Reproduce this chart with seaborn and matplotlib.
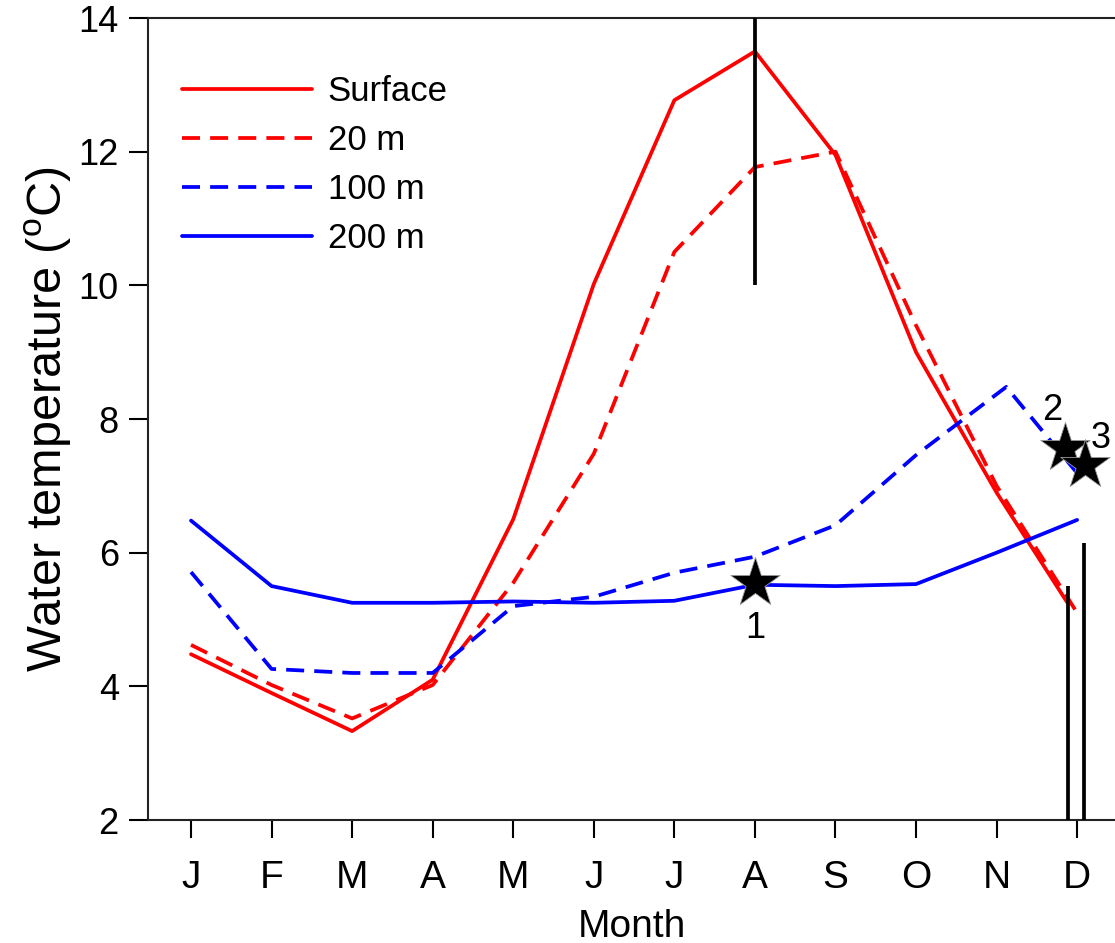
import matplotlib

matplotlib.use("Agg")

import matplotlib.pyplot as plt
import pandas as pd
import seaborn as sns

# monthly water temperature by depth
month_labels = ["J", "F", "M", "A", "M", "J", "J", "A", "S", "O", "N", "D"]
month_ticks = [1, 2, 3, 4, 5, 6, 7, 8, 9, 10, 11, 12]

surface_x = [1, 2, 3, 4, 5, 6, 7, 8, 9, 10, 11, 11.88]
surface_t = [4.48, 3.9, 3.33, 4.1, 6.5, 10.02, 12.77, 13.5, 11.95, 9.0, 6.9, 5.25]

m20_x = [1, 2, 3, 4, 5, 6, 7, 8, 9, 10, 11, 12]
m20_t = [4.62, 4.02, 3.52, 4.02, 5.55, 7.48, 10.5, 11.77, 12.0, 9.4, 7.0, 5.1]

m100_x = [1, 2, 3, 4, 5, 6, 7, 8, 9, 10, 11.12, 12]
m100_t = [5.71, 4.26, 4.2, 4.2, 5.2, 5.34, 5.7, 5.94, 6.41, 7.46, 8.48, 7.19]

m200_x = [1, 2, 3, 4, 5, 6, 7, 8, 9, 10, 11, 12]
m200_t = [6.48, 5.5, 5.25, 5.25, 5.27, 5.25, 5.28, 5.52, 5.5, 5.53, 6.0, 6.49]

series_names = ["Surface", "20 m", "100 m", "200 m"]

# sampling stations (stars) and profile bars
star_x = [8.0, 11.85, 12.1]
star_t = [5.55, 7.57, 7.31]
star_labels = ["1", "2", "3"]

bar_x = [8.0, 11.89, 12.08]
bar_low = [10.0, 2.0, 2.0]
bar_high = [14.0, 5.5, 6.15]

frame = pd.concat(
    [
        pd.DataFrame({"month": surface_x, "temp": surface_t, "depth": "Surface"}),
        pd.DataFrame({"month": m20_x, "temp": m20_t, "depth": "20 m"}),
        pd.DataFrame({"month": m100_x, "temp": m100_t, "depth": "100 m"}),
        pd.DataFrame({"month": m200_x, "temp": m200_t, "depth": "200 m"}),
    ],
    ignore_index=True,
)

sns.set_style("ticks")
plt.rcParams["font.family"] = ["Liberation Sans", "DejaVu Sans"]
plt.rcParams["mathtext.fontset"] = "custom"
plt.rcParams["mathtext.rm"] = "Liberation Sans"
plt.rcParams["text.color"] = "black"
plt.rcParams["axes.labelcolor"] = "black"
plt.rcParams["xtick.color"] = "black"
plt.rcParams["ytick.color"] = "black"

fig = plt.figure(figsize=(11.15, 9.43), dpi=100)
ax = fig.add_axes([0.13274, 0.13043, 0.86726, 0.85048])

palette = {"Surface": "#ff0000", "20 m": "#ff0000", "100 m": "#0000ff", "200 m": "#0000ff"}
dash_map = {"Surface": "", "20 m": (4.8, 2.7), "100 m": (4.8, 2.7), "200 m": ""}

sns.lineplot(
    data=frame,
    x="month",
    y="temp",
    hue="depth",
    style="depth",
    hue_order=series_names,
    style_order=series_names,
    palette=palette,
    dashes=dash_map,
    estimator=None,
    sort=False,
    linewidth=2.7,
    ax=ax,
)

ax.vlines(bar_x, bar_low, bar_high, colors="black", linewidth=2.7, zorder=4)

sns.scatterplot(
    x=star_x,
    y=star_t,
    marker="*",
    s=1400,
    color="black",
    edgecolor="0.6",
    linewidth=0.6,
    zorder=5,
    legend=False,
    ax=ax,
)

label_offsets = [(0, -33), (-9, 27), (11, 19)]
for x, y, lab, off in zip(star_x, star_t, star_labels, label_offsets):
    ax.annotate(lab, (x, y), xytext=off, textcoords="offset points",
                ha="center", va="center", fontsize=26, color="black")

ax.set_xlim(0.466, 12.47)
ax.set_ylim(2, 14)
ax.set_xticks(month_ticks)
ax.set_xticklabels(month_labels)
ax.set_yticks([2, 4, 6, 8, 10, 12, 14])

ax.set_xlabel("Month", fontsize=28, labelpad=9)
ax.set_ylabel("Water temperature ($^{\\mathrm{o}}$C)", fontsize=35, labelpad=3)

ax.tick_params(axis="x", direction="out", length=13, width=1.5, pad=16, labelsize=28)
ax.tick_params(axis="y", direction="out", length=14, width=1.5, pad=7, labelsize=26)
for side in ("left", "bottom", "top"):
    ax.spines[side].set_linewidth(1.5)
    ax.spines[side].set_color("#222222")
ax.spines["right"].set_visible(False)

handles, labels = ax.get_legend_handles_labels()
ax.legend(
    handles,
    labels,
    loc="upper left",
    bbox_to_anchor=(0.035, 0.929),
    frameon=False,
    fontsize=25,
    handlelength=3.75,
    handletextpad=0.45,
    labelspacing=0.46,
    borderpad=0,
    borderaxespad=0,
)

fig.savefig("out.png", dpi=100, facecolor="white")
plt.close(fig)
